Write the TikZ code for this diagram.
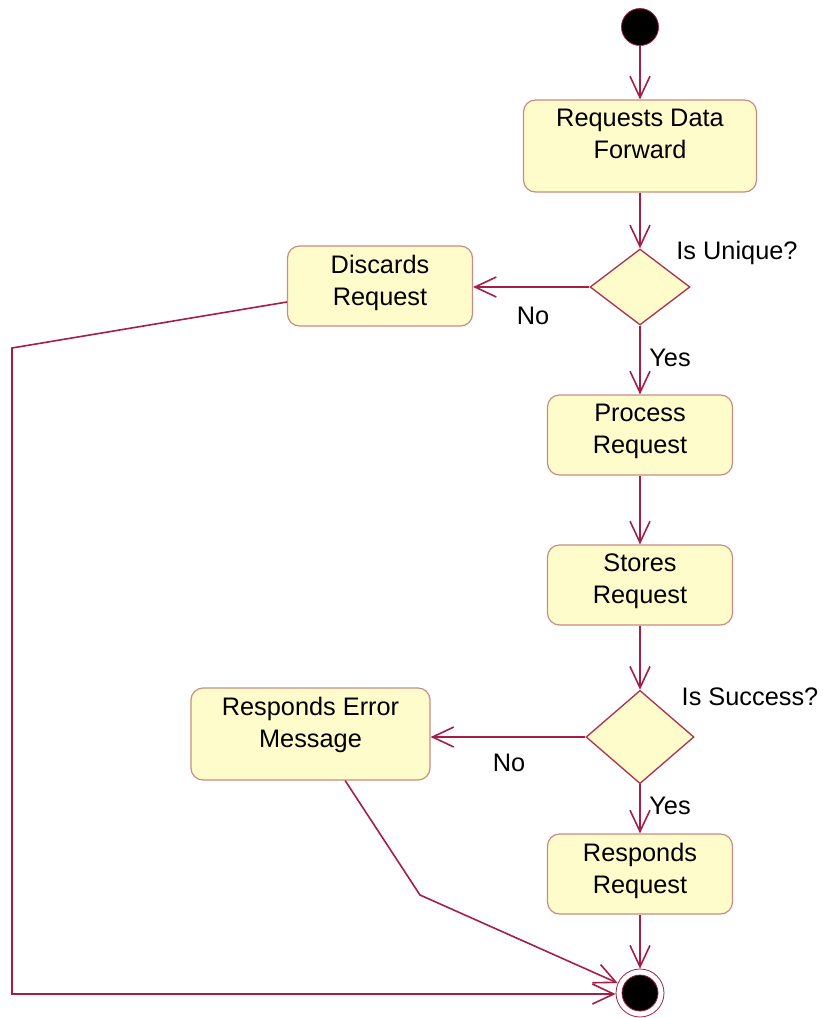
\documentclass[tikz,border=0pt]{standalone}
\usepackage{fontspec}
\setmainfont{Liberation Sans}
\usetikzlibrary{shapes.geometric,arrows.meta}
\definecolor{boxfill}{RGB}{255,252,204}
\definecolor{boxline}{RGB}{200,140,130}
\definecolor{conn}{RGB}{165,30,70}
\definecolor{dline}{RGB}{175,50,85}
\begin{document}
\begin{tikzpicture}[x=0.75pt,y=-0.75pt,
  every node/.style={font=\fontsize{19}{24}\selectfont},
  act/.style={draw=boxline,fill=boxfill,rounded corners=9pt,line width=0.9pt,minimum width=138.75pt,minimum height=60pt,inner sep=0pt},
  acttext/.style={anchor=north,align=center,inner sep=0pt,yshift=-7pt},
  dec/.style={diamond,draw=dline,fill=boxfill,line width=1pt,inner sep=0pt,aspect=1.3},
  flow/.style={draw=conn,line width=1.2pt,-{Straight Barb[length=16pt,width=15pt,line width=1.2pt]}},
  lbl/.style={inner sep=0pt}]
\useasboundingbox (0,0) rectangle (822,1018);
% nodes
\node[circle,fill=black,draw=conn,line width=0.6pt,minimum size=27.75pt,inner sep=0pt] (start) at (640,27) {};
\node[act,minimum width=174.75pt,minimum height=69pt] (rdf) at (640,146) {};
\node[acttext] at (rdf.north) {Requests Data\\Forward};
\node[dec,minimum width=75pt,minimum height=57pt] (d1) at (640,287) {};
\node[act] (disc) at (380,286) {};
\node[acttext] at (disc.north) {Discards\\Request};
\node[act] (proc) at (640,435) {};
\node[acttext] at (proc.north) {Process\\Request};
\node[act] (store) at (640,585) {};
\node[acttext] at (store.north) {Stores\\Request};
\node[dec,minimum width=81pt,minimum height=70pt] (d2) at (640,737) {};
\node[act,minimum width=179.25pt,minimum height=69pt] (err) at (310.5,734) {};
\node[acttext] at (err.north) {Responds Error\\Message};
\node[act] (resp) at (640,874) {};
\node[acttext] at (resp.north) {Responds\\Request};
\node[circle,draw=conn,fill=white,line width=0.6pt,minimum size=36pt,inner sep=0pt] (end) at (640,993) {};
\node[circle,fill=black,draw=conn,line width=0.6pt,minimum size=27pt,inner sep=0pt] (endin) at (end) {};
% labels
\node[lbl] (l1) at (737,253) {Is Unique?};
\node[lbl] (l2) at (533,316) {No};
\node[lbl] (l3) at (670,358) {Yes};
\node[lbl] (l4) at (750,697) {Is Success?};
\node[lbl] (l5) at (509,763) {No};
\node[lbl] (l6) at (670,806) {Yes};
% connectors
\coordinate (c1) at (12,348);
\coordinate (c2) at (12,994);
\coordinate (c3) at (420,895);
\draw[flow] (start) -- (rdf);
\draw[flow] (rdf) -- (d1);
\draw[flow] (d1.west) -- (disc.east|-d1.west);
\draw[flow] (d1) -- (proc);
\draw[flow] (proc) -- (store);
\draw[flow] (store) -- (d2);
\draw[flow] (d2.west) -- (err.east|-d2.west);
\draw[flow] (d2) -- (resp);
\draw[flow] (resp) -- (end);
\draw[flow] ([yshift=-12pt]disc.west) -- (c1) -- (c2) -- (end.west|-c2);
\draw[flow] ([xshift=26pt]err.south) -- (c3) -- (end);
\end{tikzpicture}
\end{document}
